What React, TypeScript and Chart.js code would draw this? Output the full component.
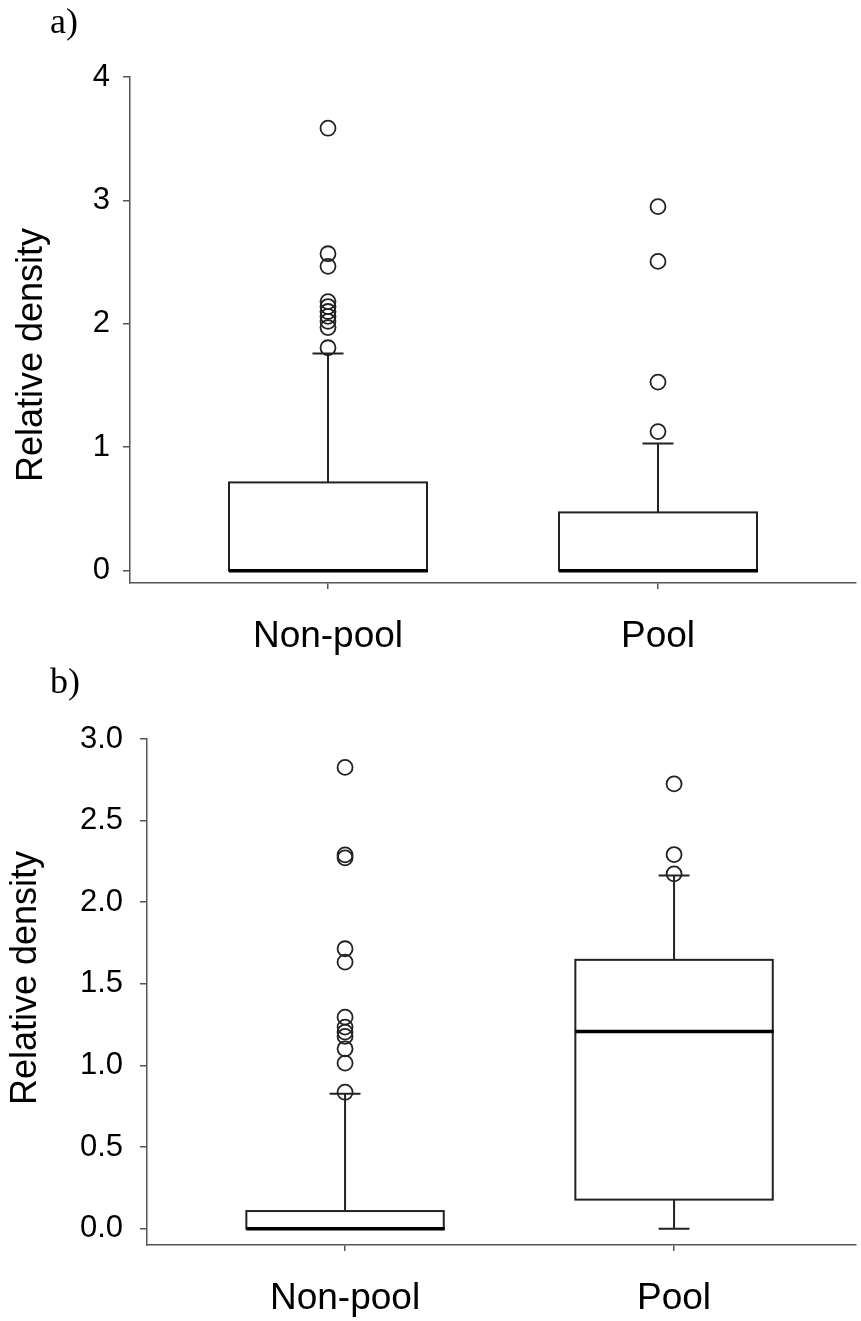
import React, { useEffect, useRef } from "react";
import { Chart, registerables } from "chart.js";

Chart.register(...registerables);

// ---------- data ----------
const categories = ["Non-pool", "Pool"];
const yTicksA = [0, 1, 2, 3, 4];
const yTicksB = [0, 0.5, 1, 1.5, 2, 2.5, 3];

// box stats: [lower whisker, Q1, median, Q3, upper whisker]
const nonPoolA = [0, 0, 0, 0.715, 1.76];
const poolA = [0, 0, 0, 0.472, 1.03];
const nonPoolAOutliers = [3.585, 2.568, 2.466, 2.18, 2.14, 2.1, 2.06, 2.02, 1.97, 1.806];
const poolAOutliers = [2.95, 2.506, 1.528, 1.127];

const nonPoolB = [0, 0, 0, 0.108, 0.827];
const poolB = [0, 0.178, 1.208, 1.647, 2.163];
const nonPoolBOutliers = [2.826, 2.29, 2.272, 1.715, 1.633, 1.296, 1.235, 1.204, 1.178, 1.102, 1.014, 0.836];
const poolBOutliers = [2.725, 2.292, 2.174];

const yTitle = "Relative density";

const SANS = "'Liberation Sans', Arial, sans-serif";
const SERIF = "'Liberation Serif', 'Times New Roman', serif";
const AXIS_COLOR = "#555";
const LINE_COLOR = "#222";

function makeBoxPlugin(boxes: number[][]) {
  return {
    id: "boxes",
    beforeDatasetsDraw(chart: any) {
      const { ctx, scales } = chart;
      const x = scales.x;
      const y = scales.y;
      const half = 0.3;
      const cap = 0.047;
      ctx.save();
      ctx.strokeStyle = LINE_COLOR;
      ctx.lineCap = "butt";
      boxes.forEach((b, i) => {
        const [lo, q1, med, q3, hi] = b;
        const xc = x.getPixelForValue(i);
        const xl = x.getPixelForValue(i - half);
        const xr = x.getPixelForValue(i + half);
        const cl = x.getPixelForValue(i - cap);
        const cr = x.getPixelForValue(i + cap);
        const yLo = y.getPixelForValue(lo);
        const yQ1 = y.getPixelForValue(q1);
        const yMed = y.getPixelForValue(med);
        const yQ3 = y.getPixelForValue(q3);
        const yHi = y.getPixelForValue(hi);
        ctx.lineWidth = 2;
        // whiskers
        ctx.beginPath();
        ctx.moveTo(xc, yQ3);
        ctx.lineTo(xc, yHi);
        ctx.moveTo(cl, yHi);
        ctx.lineTo(cr, yHi);
        if (yLo !== yQ1) {
          ctx.moveTo(xc, yQ1);
          ctx.lineTo(xc, yLo);
          ctx.moveTo(cl, yLo);
          ctx.lineTo(cr, yLo);
        }
        ctx.stroke();
        // box
        ctx.strokeRect(xl, yQ3, xr - xl, yQ1 - yQ3);
        // median
        ctx.lineWidth = 3.5;
        ctx.strokeStyle = "#000";
        ctx.beginPath();
        ctx.moveTo(xl, yMed);
        ctx.lineTo(xr + 1, yMed);
        ctx.stroke();
        ctx.strokeStyle = LINE_COLOR;
      });
      ctx.restore();
    },
  };
}

function makeDecorPlugin(label: string, titleX: number, titleY: number) {
  return {
    id: "decor",
    afterDraw(chart: any) {
      const { ctx } = chart;
      ctx.save();
      ctx.fillStyle = "#000";
      ctx.font = `36px ${SERIF}`;
      ctx.textAlign = "left";
      ctx.textBaseline = "alphabetic";
      ctx.fillText(label, 50, 33);
      ctx.translate(titleX, titleY);
      ctx.rotate(-Math.PI / 2);
      ctx.font = `36px ${SANS}`;
      ctx.textAlign = "center";
      ctx.textBaseline = "middle";
      ctx.fillText(yTitle, 0, 0);
      ctx.restore();
    },
  };
}

interface PanelProps {
  height: number;
  label: string;
  boxes: number[][];
  outliers: number[][];
  yTicks: number[];
  yMin: number;
  yMax: number;
  xMin: number;
  xMax: number;
  padTop: number;
  yWidth: number;
  xHeight: number;
  yTickPad: number;
  decimals: number;
  titleX: number;
  titleY: number;
}

function Panel(p: PanelProps) {
  const ref = useRef<HTMLCanvasElement>(null);
  useEffect(() => {
    if (!ref.current) return;
    const datasets = p.outliers.map((vals, i) => ({
      label: categories[i],
      data: vals.map((v) => ({ x: i, y: v })),
      pointStyle: "circle",
      pointRadius: 7.5,
      pointBorderWidth: 1.8,
      borderColor: LINE_COLOR,
      backgroundColor: "rgba(0,0,0,0)",
      pointBackgroundColor: "rgba(0,0,0,0)",
      pointBorderColor: LINE_COLOR,
    }));
    const chart = new Chart(ref.current, {
      type: "scatter",
      data: { datasets },
      options: {
        responsive: false,
        animation: false,
        layout: {
          autoPadding: false,
          padding: { top: p.padTop, right: 5, left: 0, bottom: 0 },
        },
        plugins: {
          legend: { display: false },
          tooltip: { enabled: false },
          title: { display: false },
        },
        scales: {
          x: {
            type: "linear",
            min: p.xMin,
            max: p.xMax,
            afterBuildTicks: (s: any) => {
              s.ticks = categories.map((_, i) => ({ value: i }));
            },
            afterFit: (s: any) => {
              s.height = p.xHeight;
            },
            ticks: {
              callback: (v: any) => categories[Math.round(Number(v))] ?? "",
              font: { family: SANS, size: 37 },
              color: "#000",
              padding: 26,
              maxRotation: 0,
              autoSkip: false,
            },
            grid: {
              display: true,
              drawOnChartArea: false,
              drawTicks: true,
              tickLength: 6,
              color: AXIS_COLOR,
              lineWidth: 1.5,
            },
            border: { display: true, color: AXIS_COLOR, width: 1.5 },
          },
          y: {
            type: "linear",
            min: p.yMin,
            max: p.yMax,
            afterBuildTicks: (s: any) => {
              s.ticks = p.yTicks.map((v) => ({ value: v }));
            },
            afterFit: (s: any) => {
              s.width = p.yWidth;
            },
            ticks: {
              callback: (v: any) => Number(v).toFixed(p.decimals),
              font: { family: SANS, size: 31 },
              color: "#000",
              padding: p.yTickPad,
              autoSkip: false,
            },
            grid: {
              display: true,
              drawOnChartArea: false,
              drawTicks: true,
              tickLength: 7,
              color: AXIS_COLOR,
              lineWidth: 1.5,
            },
            border: { display: true, color: AXIS_COLOR, width: 1.5 },
          },
        },
      } as any,
      plugins: [makeBoxPlugin(p.boxes), makeDecorPlugin(p.label, p.titleX, p.titleY)],
    });
    return () => chart.destroy();
  }, []);
  return <canvas ref={ref} width={861} height={p.height} style={{ display: "block" }} />;
}

export default function App() {
  return (
    <div
      style={{
        position: "absolute",
        left: 0,
        top: 0,
        width: 861,
        height: 1321,
        background: "#fff",
      }}
    >
      <Panel
        height={660}
        label="a)"
        boxes={[nonPoolA, poolA]}
        outliers={[nonPoolAOutliers, poolAOutliers]}
        yTicks={yTicksA}
        yMin={-0.1}
        yMax={4}
        xMin={-0.6}
        xMax={1.6}
        padTop={77}
        yWidth={130}
        xHeight={77}
        yTickPad={13}
        decimals={0}
        titleX={32}
        titleY={355}
      />
      <Panel
        height={661}
        label="b)"
        boxes={[nonPoolB, poolB]}
        outliers={[nonPoolBOutliers, poolBOutliers]}
        yTicks={yTicksB}
        yMin={-0.1}
        yMax={3}
        xMin={-0.602}
        xMax={1.553}
        padTop={79}
        yWidth={147}
        xHeight={76}
        yTickPad={17}
        decimals={1}
        titleX={26}
        titleY={318}
      />
    </div>
  );
}
